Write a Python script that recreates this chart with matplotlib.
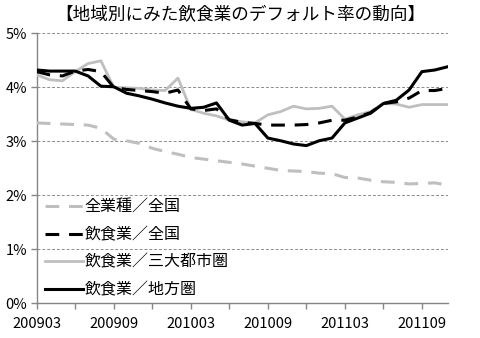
import matplotlib
matplotlib.use("Agg")
import matplotlib.pyplot as plt
import numpy as np

plt.rcParams['font.family'] = ['Noto Sans CJK JP', 'DejaVu Sans']

# Months 2009/03 .. 2011/11 (33 monthly points)
months = [f"{y}{m:02d}" for y, m in
          [(2009, m) for m in range(3, 13)] + [(2010, m) for m in range(1, 13)] + [(2011, m) for m in range(1, 12)]]

all_industry = [3.34, 3.33, 3.32, 3.31, 3.30, 3.24, 3.04, 3.01, 2.96, 2.87, 2.81,
                2.76, 2.70, 2.67, 2.64, 2.61, 2.58, 2.54, 2.50, 2.46, 2.45, 2.44,
                2.41, 2.40, 2.33, 2.32, 2.28, 2.25, 2.24, 2.21, 2.22, 2.23, 2.19]
food_nation = [4.29, 4.23, 4.21, 4.30, 4.33, 4.29, 4.00, 3.96, 3.94, 3.92, 3.89,
               3.95, 3.60, 3.57, 3.60, 3.40, 3.35, 3.33, 3.30, 3.30, 3.30, 3.31,
               3.34, 3.39, 3.39, 3.45, 3.53, 3.70, 3.73, 3.80, 3.94, 3.94, 3.98]
food_metro = [4.23, 4.14, 4.12, 4.29, 4.44, 4.49, 4.00, 3.99, 3.98, 3.95, 3.94,
              4.17, 3.59, 3.52, 3.47, 3.39, 3.36, 3.34, 3.49, 3.55, 3.65, 3.60,
              3.61, 3.65, 3.41, 3.49, 3.55, 3.70, 3.69, 3.63, 3.68, 3.68, 3.68]
food_local = [4.32, 4.30, 4.30, 4.30, 4.21, 4.02, 4.01, 3.89, 3.84, 3.78, 3.71,
              3.65, 3.61, 3.63, 3.71, 3.39, 3.30, 3.33, 3.06, 3.01, 2.95, 2.92,
              3.01, 3.06, 3.34, 3.43, 3.52, 3.70, 3.76, 3.95, 4.29, 4.32, 4.38]

series_names = ['全業種／全国', '飲食業／全国', '飲食業／三大都市圏', '飲食業／地方圏']
yticks = [0, 1, 2, 3, 4, 5]
ytick_labels = ['0%', '1%', '2%', '3%', '4%', '5%']
xtick_labels = ['200903', '200909', '201003', '201009', '201103', '201109']
title = '【地域別にみた飲食業のデフォルト率の動向】'

fig = plt.figure(figsize=(4.8, 3.38), dpi=100)
ax = fig.add_axes([0.0765, 0.1027, 0.856, 0.7988])

x = np.arange(len(months))
gray = '#bfbfbf'
ax.plot(x, all_industry, color=gray, lw=2.2, dashes=(4.5, 3.2), label=series_names[0], zorder=3)
ax.plot(x, food_metro, color=gray, lw=2.0, label=series_names[2], zorder=4)
ax.plot(x, food_nation, color='black', lw=2.2, dashes=(4.5, 3.2), label=series_names[1], zorder=5)
ax.plot(x, food_local, color='black', lw=2.2, label=series_names[3], zorder=6)

ax.set_xlim(0, len(months) - 1)
ax.set_ylim(0, 5)
ax.set_yticks(yticks)
ax.set_yticklabels(ytick_labels)
for v in yticks[1:]:
    ax.axhline(v, color='#8c8c8c', lw=0.7, ls=(0, (3, 2)), zorder=1)

tick_pos = x[::3]
ax.set_xticks(tick_pos)
lab_map = {months.index(l): l for l in xtick_labels}
ax.set_xticklabels([lab_map.get(p, '') for p in tick_pos])

for s in ['top', 'right']:
    ax.spines[s].set_visible(False)
for s in ['left', 'bottom']:
    ax.spines[s].set_color('#868686')
    ax.spines[s].set_linewidth(1.0)
ax.tick_params(axis='both', colors='#868686', labelcolor='black', labelsize=10.5, length=4, width=1.0)
ax.tick_params(axis='y', pad=3)
ax.tick_params(axis='x', pad=6)

hd = {lab: hh for hh, lab in zip(*ax.get_legend_handles_labels())}
leg = ax.legend([hd[n] for n in series_names], series_names, loc='lower left',
                bbox_to_anchor=(0.005, -0.005), frameon=False, fontsize=11.5,
                handlelength=2.35, handletextpad=0.1, labelspacing=0.66,
                borderaxespad=0.0)

fig.text(0.5, 0.955, title, ha='center', va='center', fontsize=12.7)

fig.savefig('out.png', dpi=100)
